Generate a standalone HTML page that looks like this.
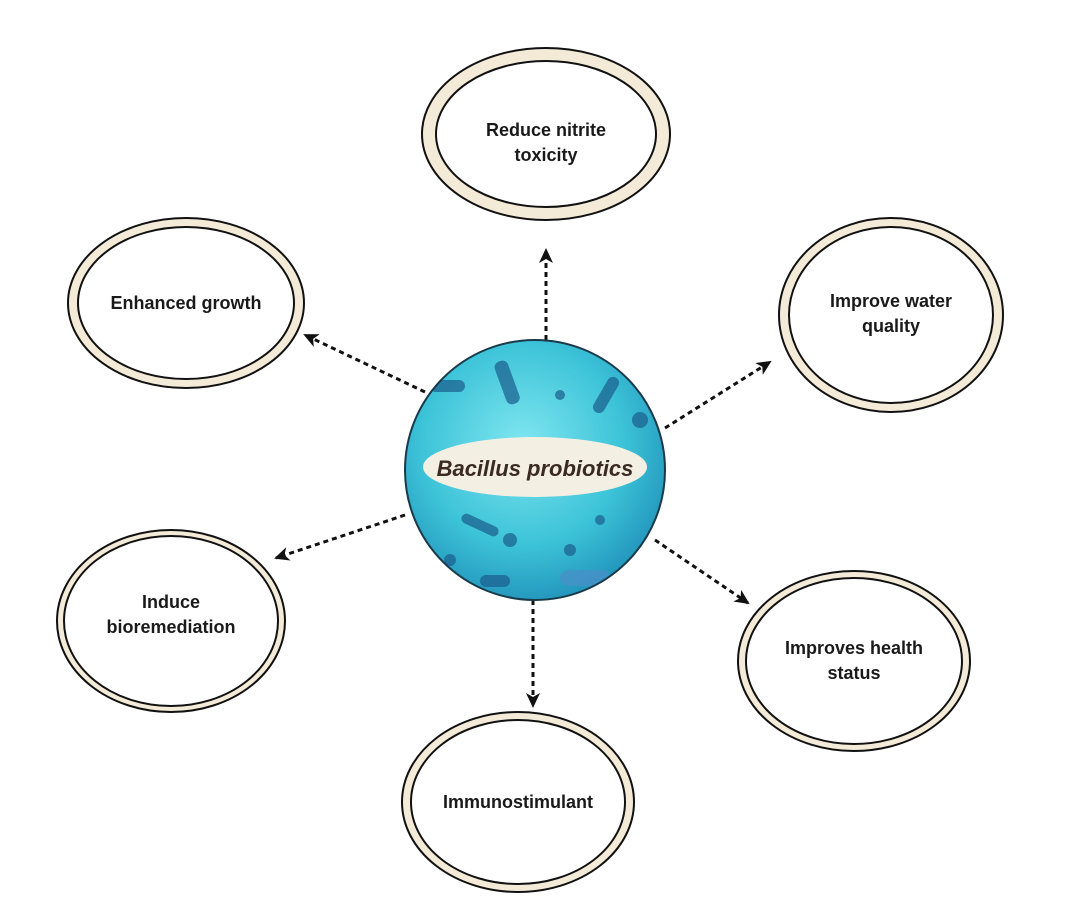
<!DOCTYPE html>
<html><head><style>
html,body{margin:0;padding:0;background:#fff;}
svg{display:block;}
text{font-family:"Liberation Sans",sans-serif;font-weight:bold;fill:#1a1a1a;}
</style></head><body>
<svg width="1090" height="922" viewBox="0 0 1090 922" xmlns="http://www.w3.org/2000/svg">
<defs>
<marker id="ah" markerWidth="16" markerHeight="16" refX="13" refY="8" orient="auto" markerUnits="userSpaceOnUse">
<path d="M0,1 L15,8 L0,15 L4,8 z" fill="#111"/></marker>
<radialGradient id="cg" cx="45%" cy="40%" r="65%">
<stop offset="0" stop-color="#7fe6f0"/><stop offset="0.6" stop-color="#3cc3d8"/><stop offset="1" stop-color="#1f8fb8"/></radialGradient>
<clipPath id="cc"><circle cx="535" cy="470" r="130"/></clipPath>
</defs>
<g stroke="#111" stroke-width="2">
<ellipse cx="546" cy="134" rx="124" ry="86" fill="#f3ead8"/>
<ellipse cx="546" cy="134" rx="110" ry="73" fill="#fff"/>
<ellipse cx="186" cy="303" rx="118" ry="85" fill="#f3ead8"/>
<ellipse cx="186" cy="303" rx="108" ry="76" fill="#fff"/>
<ellipse cx="891" cy="315" rx="112" ry="97" fill="#f3ead8"/>
<ellipse cx="891" cy="315" rx="102" ry="88" fill="#fff"/>
<ellipse cx="171" cy="621" rx="114" ry="91" fill="#f3ead8"/>
<ellipse cx="171" cy="621" rx="107" ry="85" fill="#fff"/>
<ellipse cx="854" cy="661" rx="116" ry="90" fill="#f3ead8"/>
<ellipse cx="854" cy="661" rx="108" ry="83" fill="#fff"/>
<ellipse cx="518" cy="802" rx="116" ry="90" fill="#f3ead8"/>
<ellipse cx="518" cy="802" rx="107" ry="82" fill="#fff"/>
</g>
<g stroke="#111" stroke-width="3" stroke-dasharray="5,4" marker-end="url(#ah)" fill="none">
<line x1="546" y1="340" x2="546" y2="250"/>
<line x1="425" y1="392" x2="305" y2="335"/>
<line x1="665" y1="428" x2="770" y2="362"/>
<line x1="405" y1="515" x2="276" y2="558"/>
<line x1="655" y1="540" x2="748" y2="603"/>
<line x1="533" y1="600" x2="533" y2="706"/>
</g>
<circle cx="535" cy="470" r="130" fill="url(#cg)"/>
<g clip-path="url(#cc)" fill="#1b5d8c" opacity="0.7">
<rect x="500" y="360" width="14" height="45" rx="6" transform="rotate(-20 507 382)"/>
<rect x="600" y="375" width="12" height="40" rx="6" transform="rotate(30 606 395)"/>
<rect x="430" y="380" width="35" height="12" rx="6"/>
<rect x="460" y="520" width="40" height="10" rx="5" transform="rotate(25 480 525)"/>
<circle cx="510" cy="540" r="7"/><circle cx="570" cy="550" r="6"/><circle cx="600" cy="520" r="5"/>
<circle cx="450" cy="560" r="6"/><circle cx="560" cy="395" r="5"/><circle cx="640" cy="420" r="8"/>
<rect x="560" y="570" width="50" height="16" rx="8" fill="#4a8fc8"/>
<rect x="480" y="575" width="30" height="12" rx="6"/>
</g>
<circle cx="535" cy="470" r="130" fill="none" stroke="#1a3a4a" stroke-width="2"/>
<ellipse cx="535" cy="467" rx="112" ry="30" fill="#f4efe3"/>
<text x="535" y="476" text-anchor="middle" font-size="22" font-style="italic" style="fill:#3a2a22">Bacillus probiotics</text>
<g font-size="18" text-anchor="middle">
<text x="546" y="136">Reduce nitrite</text><text x="546" y="161">toxicity</text>
<text x="186" y="309">Enhanced growth</text>
<text x="891" y="307">Improve water</text><text x="891" y="332">quality</text>
<text x="171" y="608">Induce</text><text x="171" y="633">bioremediation</text>
<text x="854" y="654">Improves health</text><text x="854" y="679">status</text>
<text x="518" y="808">Immunostimulant</text>
</g>
</svg>
</body></html>
